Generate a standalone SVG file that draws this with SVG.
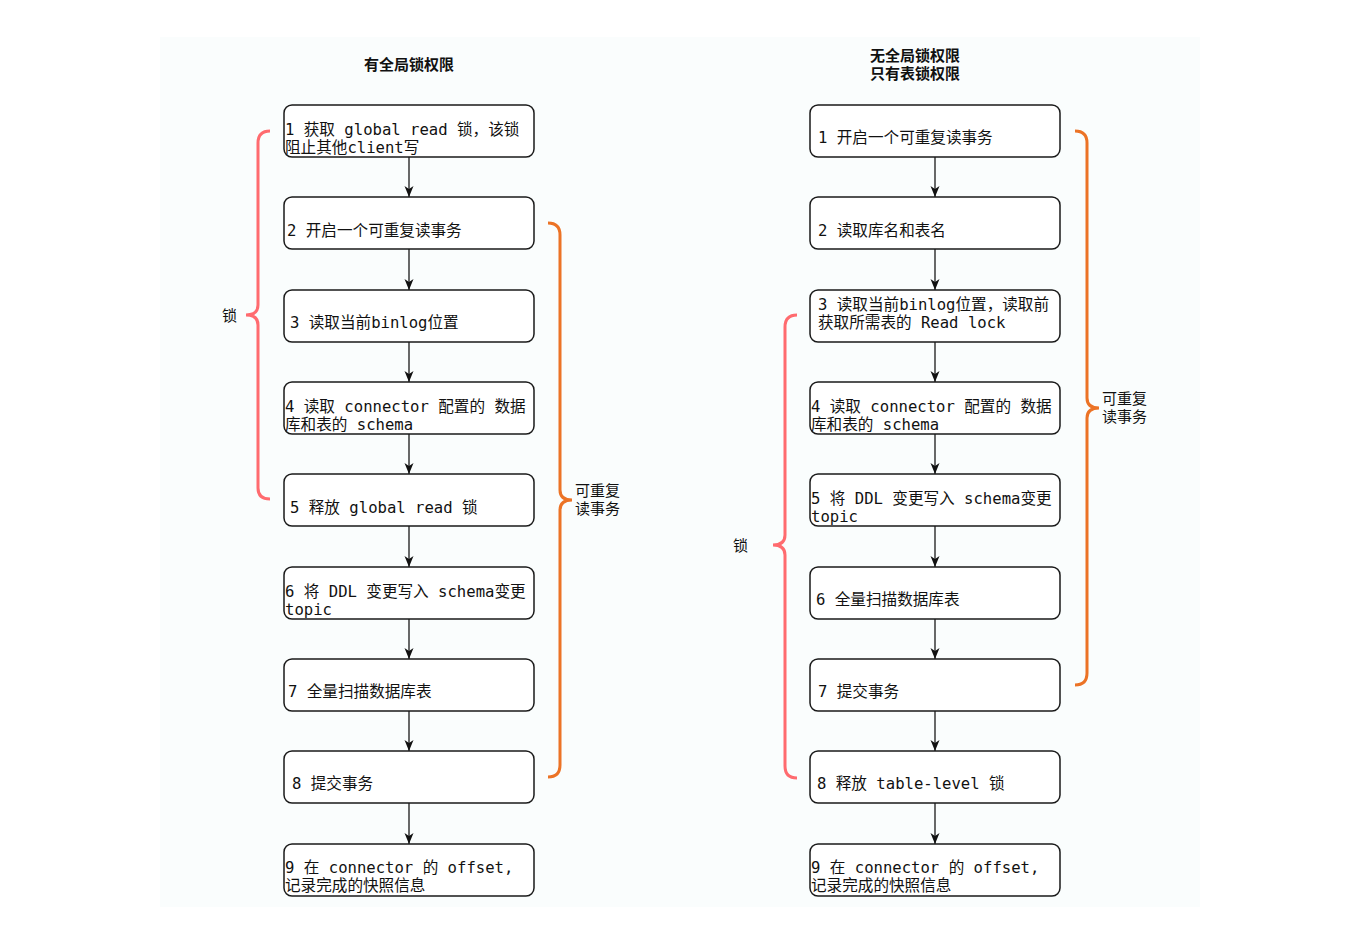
<svg xmlns="http://www.w3.org/2000/svg" width="1360" height="949" viewBox="0 0 1360 949">
<style>
.box{fill:#ffffff;stroke:#1a1a1a;stroke-width:1.5}
.t{font-family:"DejaVu Sans Mono","Noto Sans CJK SC",monospace;font-size:15.6px;fill:#111}
.title{font-family:"DejaVu Sans","Noto Sans CJK SC",sans-serif;font-size:15px;font-weight:bold;fill:#111;text-anchor:middle}
.lbl{font-family:"DejaVu Sans","Noto Sans CJK SC",sans-serif;font-size:15px;fill:#111}
.conn{stroke:#1a1a1a;stroke-width:1.3;fill:none}
.red{stroke:#ff6b6f;stroke-width:3;fill:none}
.orange{stroke:#ec7326;stroke-width:3;fill:none}
</style>
<defs>
<marker id="arr" markerUnits="userSpaceOnUse" markerWidth="12" markerHeight="12" viewBox="0 0 12 12" refX="11" refY="6" orient="auto">
<path d="M0,1.5 L11,6 L0,10.5 L3,6 z" fill="#111"/>
</marker>
</defs>
<rect x="0" y="0" width="1360" height="949" fill="#ffffff"/>
<rect x="160" y="37" width="1040" height="870" fill="#fafdfd"/>

<text class="title" x="409" y="70">有全局锁权限</text>
<text class="title" x="915" y="61">无全局锁权限</text>
<text class="title" x="915" y="79">只有表锁权限</text>

<g id="connectors">
<line class="conn" x1="409" y1="157" x2="409" y2="197" marker-end="url(#arr)"/>
<line class="conn" x1="409" y1="249" x2="409" y2="290" marker-end="url(#arr)"/>
<line class="conn" x1="409" y1="342" x2="409" y2="382" marker-end="url(#arr)"/>
<line class="conn" x1="409" y1="434" x2="409" y2="474" marker-end="url(#arr)"/>
<line class="conn" x1="409" y1="526" x2="409" y2="567" marker-end="url(#arr)"/>
<line class="conn" x1="409" y1="619" x2="409" y2="659" marker-end="url(#arr)"/>
<line class="conn" x1="409" y1="711" x2="409" y2="751" marker-end="url(#arr)"/>
<line class="conn" x1="409" y1="803" x2="409" y2="844" marker-end="url(#arr)"/>
<line class="conn" x1="935" y1="157" x2="935" y2="197" marker-end="url(#arr)"/>
<line class="conn" x1="935" y1="249" x2="935" y2="290" marker-end="url(#arr)"/>
<line class="conn" x1="935" y1="342" x2="935" y2="382" marker-end="url(#arr)"/>
<line class="conn" x1="935" y1="434" x2="935" y2="474" marker-end="url(#arr)"/>
<line class="conn" x1="935" y1="526" x2="935" y2="567" marker-end="url(#arr)"/>
<line class="conn" x1="935" y1="619" x2="935" y2="659" marker-end="url(#arr)"/>
<line class="conn" x1="935" y1="711" x2="935" y2="751" marker-end="url(#arr)"/>
<line class="conn" x1="935" y1="803" x2="935" y2="844" marker-end="url(#arr)"/>
</g>

<g id="L1"><rect class="box" x="284" y="105" width="250" height="52" rx="8"/><text class="t" x="285" y="135">1 获取 global read 锁，该锁</text><text class="t" x="285" y="153">阻止其他client写</text></g>
<g id="L2"><rect class="box" x="284" y="197" width="250" height="52" rx="8"/><text class="t" x="287" y="236">2 开启一个可重复读事务</text></g>
<g id="L3"><rect class="box" x="284" y="290" width="250" height="52" rx="8"/><text class="t" x="290" y="328">3 读取当前binlog位置</text></g>
<g id="L4"><rect class="box" x="284" y="382" width="250" height="52" rx="8"/><text class="t" x="285" y="412">4 读取 connector 配置的 数据</text><text class="t" x="285" y="430">库和表的 schema</text></g>
<g id="L5"><rect class="box" x="284" y="474" width="250" height="52" rx="8"/><text class="t" x="290" y="513">5 释放 global read 锁</text></g>
<g id="L6"><rect class="box" x="284" y="567" width="250" height="52" rx="8"/><text class="t" x="285" y="597">6 将 DDL 变更写入 schema变更</text><text class="t" x="285" y="615">topic</text></g>
<g id="L7"><rect class="box" x="284" y="659" width="250" height="52" rx="8"/><text class="t" x="288" y="697">7 全量扫描数据库表</text></g>
<g id="L8"><rect class="box" x="284" y="751" width="250" height="52" rx="8"/><text class="t" x="292" y="789">8 提交事务</text></g>
<g id="L9"><rect class="box" x="284" y="844" width="250" height="52" rx="8"/><text class="t" x="285" y="873">9 在 connector 的 offset,</text><text class="t" x="285" y="891">记录完成的快照信息</text></g>

<g id="R1"><rect class="box" x="810" y="105" width="250" height="52" rx="8"/><text class="t" x="818" y="143">1 开启一个可重复读事务</text></g>
<g id="R2"><rect class="box" x="810" y="197" width="250" height="52" rx="8"/><text class="t" x="818" y="236">2 读取库名和表名</text></g>
<g id="R3"><rect class="box" x="810" y="290" width="250" height="52" rx="8"/><text class="t" x="818" y="310">3 读取当前binlog位置，读取前</text><text class="t" x="818" y="328">获取所需表的 Read lock</text></g>
<g id="R4"><rect class="box" x="810" y="382" width="250" height="52" rx="8"/><text class="t" x="811" y="412">4 读取 connector 配置的 数据</text><text class="t" x="811" y="430">库和表的 schema</text></g>
<g id="R5"><rect class="box" x="810" y="474" width="250" height="52" rx="8"/><text class="t" x="811" y="504">5 将 DDL 变更写入 schema变更</text><text class="t" x="811" y="522">topic</text></g>
<g id="R6"><rect class="box" x="810" y="567" width="250" height="52" rx="8"/><text class="t" x="816" y="605">6 全量扫描数据库表</text></g>
<g id="R7"><rect class="box" x="810" y="659" width="250" height="52" rx="8"/><text class="t" x="818" y="697">7 提交事务</text></g>
<g id="R8"><rect class="box" x="810" y="751" width="250" height="52" rx="8"/><text class="t" x="817" y="789">8 释放 table-level 锁</text></g>
<g id="R9"><rect class="box" x="810" y="844" width="250" height="52" rx="8"/><text class="t" x="811" y="873">9 在 connector 的 offset,</text><text class="t" x="811" y="891">记录完成的快照信息</text></g>

<g id="brace-left-lock">
<path class="red" d="M270,131 Q258,131 258,143 L258,305 Q258,315 246,315 Q258,315 258,325 L258,488 Q258,499 270,499"/>
<text class="lbl" x="222" y="321">锁</text>
</g>
<g id="brace-left-txn">
<path class="orange" d="M548,223 Q560,223 560,235 L560,490 Q560,500 572,500 Q560,500 560,510 L560,765 Q560,777 548,777"/>
<text class="lbl" x="575" y="496">可重复</text>
<text class="lbl" x="575" y="514">读事务</text>
</g>
<g id="brace-right-txn">
<path class="orange" d="M1075,131 Q1087,131 1087,143 L1087,398 Q1087,408 1099,408 Q1087,408 1087,418 L1087,673 Q1087,685 1075,685"/>
<text class="lbl" x="1102" y="404">可重复</text>
<text class="lbl" x="1102" y="422">读事务</text>
</g>
<g id="brace-right-lock">
<path class="red" d="M797,315 Q785,315 785,327 L785,535 Q785,545 773,545 Q785,545 785,555 L785,766 Q785,778 797,778"/>
<text class="lbl" x="733" y="551">锁</text>
</g>
</svg>
